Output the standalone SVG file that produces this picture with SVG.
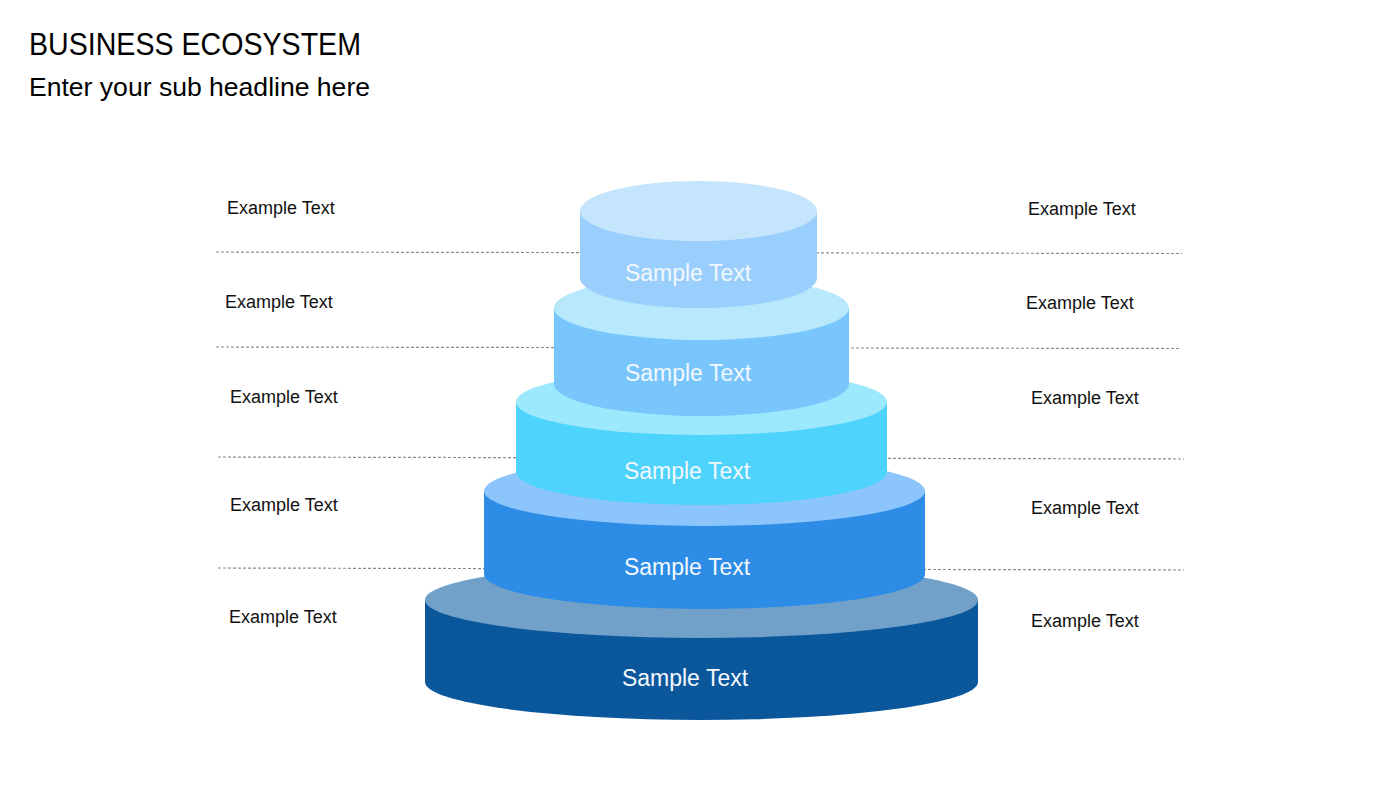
<svg xmlns="http://www.w3.org/2000/svg" width="1400" height="788" viewBox="0 0 1400 788">
<style>
.title{font-family:"Liberation Sans",Arial,sans-serif;fill:#000}
.ex{font-family:"Liberation Sans",Arial,sans-serif;font-size:18px;fill:#111}
.st{font-family:"Liberation Sans",Arial,sans-serif;font-size:23px;fill:#F2F8FD;text-anchor:middle}
.dash{stroke:#8a8a8a;stroke-width:1.2;stroke-dasharray:3 2;fill:none}
</style>
<rect width="1400" height="788" fill="#fff"/>
<text class="title" x="29" y="55" font-size="31" textLength="332" lengthAdjust="spacingAndGlyphs">BUSINESS ECOSYSTEM</text>
<text class="title" x="29" y="96" font-size="25" textLength="341" lengthAdjust="spacingAndGlyphs">Enter your sub headline here</text>
<g id="connectors">
<line class="dash" x1="216" y1="252" x2="1182" y2="253.5"/>
<line class="dash" x1="216" y1="347" x2="1181" y2="348.5"/>
<line class="dash" x1="218" y1="457" x2="1184" y2="459"/>
<line class="dash" x1="218" y1="568" x2="1184" y2="570"/>
</g>
<g id="tier5">
<path d="M425,600 L425,682 A276.5,38 0 0 0 978,682 L978,600 Z" fill="#0B579B"/>
<ellipse cx="701.5" cy="600" rx="276.5" ry="38" fill="#71A0C9"/>
<text class="st" x="685" y="686">Sample Text</text>
</g>
<g id="tier4">
<path d="M484,491 L484,574 A220.5,35 0 0 0 925,574 L925,491 Z" fill="#2D8CE6"/>
<ellipse cx="704.5" cy="491" rx="220.5" ry="35" fill="#8CC5FB"/>
<text class="st" x="687" y="575">Sample Text</text>
</g>
<g id="tier3">
<path d="M516,402 L516,472 A185.5,33 0 0 0 887,472 L887,402 Z" fill="#4DD3FC"/>
<ellipse cx="701.5" cy="402" rx="185.5" ry="33" fill="#9CE8FD"/>
<text class="st" x="687" y="479">Sample Text</text>
</g>
<g id="tier2">
<path d="M554,308 L554,384 A147.5,32 0 0 0 849,384 L849,308 Z" fill="#78C6FC"/>
<ellipse cx="701.5" cy="308" rx="147.5" ry="32" fill="#B7E8FC"/>
<text class="st" x="688" y="381">Sample Text</text>
</g>
<g id="tier1">
<path d="M580,211 L580,278 A118.5,30 0 0 0 817,278 L817,211 Z" fill="#9ACEFC"/>
<ellipse cx="698.5" cy="211" rx="118.5" ry="30" fill="#C5E5FD"/>
<text class="st" x="688" y="281">Sample Text</text>
</g>
<g id="labels-left">
<text class="ex" x="227" y="214">Example Text</text>
<text class="ex" x="225" y="308">Example Text</text>
<text class="ex" x="230" y="403">Example Text</text>
<text class="ex" x="230" y="511">Example Text</text>
<text class="ex" x="229" y="623">Example Text</text>
</g>
<g id="labels-right">
<text class="ex" x="1028" y="215">Example Text</text>
<text class="ex" x="1026" y="309">Example Text</text>
<text class="ex" x="1031" y="404">Example Text</text>
<text class="ex" x="1031" y="514">Example Text</text>
<text class="ex" x="1031" y="627">Example Text</text>
</g>
</svg>
